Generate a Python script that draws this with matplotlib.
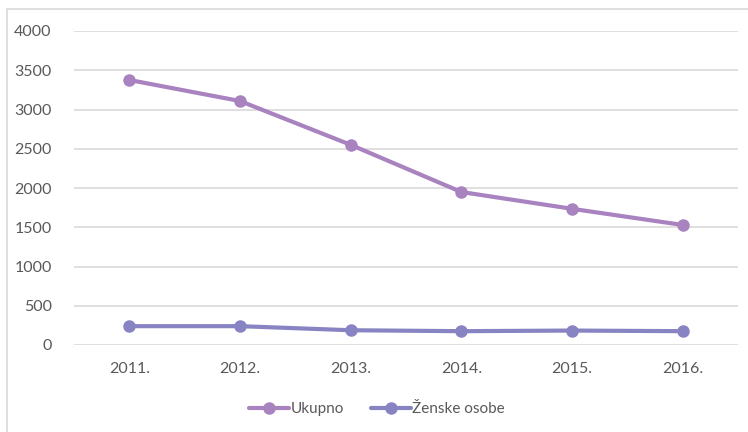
import matplotlib
matplotlib.use("Agg")
import matplotlib.pyplot as plt
from matplotlib.patches import Rectangle

years = ["2011.", "2012.", "2013.", "2014.", "2015.", "2016."]
ukupno = [3376, 3108, 2550, 1949, 1735, 1529]
zenske = [240, 240, 188, 176, 184, 176]
yticks = [0, 500, 1000, 1500, 2000, 2500, 3000, 3500, 4000]

plt.rcParams['font.family'] = ['Lato', 'DejaVu Sans']

fig = plt.figure(figsize=(7.48, 4.32), dpi=100)
fig.patch.set_facecolor('white')
fig.patches.append(Rectangle((7/748, -0.1), 1.1, 1 - 9.5/432 + 0.1, transform=fig.transFigure,
                             fill=False, edgecolor='#D9D9D9', linewidth=1.2))

ax = fig.add_axes([74/748, 1 - 345/432, (738 - 74)/748, (345 - 31)/432])
x = list(range(len(years)))
c1 = '#A982C0'
c2 = '#8883C3'
ax.plot(x, ukupno, color=c1, lw=3, marker='o', ms=8, label='Ukupno', solid_capstyle='round')
ax.plot(x, zenske, color=c2, lw=3, marker='o', ms=8, label='Ženske osobe', solid_capstyle='round')

ax.set_xlim(-0.5, len(years) - 0.5)
ax.set_ylim(0, 4000)
ax.set_yticks(yticks)
ax.set_xticks(x)
ax.set_xticklabels(years)
ax.grid(axis='y', color='#D9D9D9', lw=1.2)
ax.set_axisbelow(True)
for s in ax.spines.values():
    s.set_visible(False)
ax.tick_params(length=0, labelsize=11.5, colors='#595959', pad=12)
ax.tick_params(axis='y', pad=16)

leg = fig.legend(loc='center', bbox_to_anchor=(377/748, 1 - 409/432), ncol=2, frameon=False,
                 fontsize=11, handlelength=2.6, columnspacing=1.8, handletextpad=0.1)
for t in leg.get_texts():
    t.set_color('#595959')

fig.savefig('out.png', dpi=100)
